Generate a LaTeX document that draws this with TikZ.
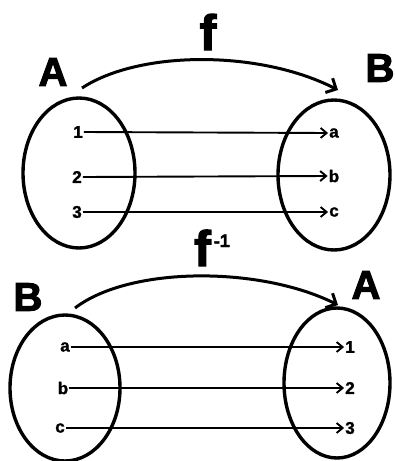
\documentclass[tikz,border=0pt]{standalone}
\usepackage{fontspec}
\setmainfont{Liberation Sans}
\newfontfamily\heavyfont[FakeBold=2.5]{Liberation Sans Bold}
\newfontfamily\midfont[FakeBold=1.5]{Liberation Sans Bold}
\usetikzlibrary{shapes.geometric,arrows.meta}
\begin{document}
\begin{tikzpicture}[x=1pt,y=-1pt,
  setell/.style={draw,ellipse,line width=3.4pt,inner sep=0pt},
  bigl/.style={font=\fontsize{40}{40}\selectfont\heavyfont,inner sep=0pt},
  fnl/.style={font=\fontsize{50}{50}\selectfont\heavyfont,inner sep=0pt},
  lbl/.style={font=\fontsize{17}{17}\selectfont\midfont,inner sep=1pt},
  maparrow/.style={line width=1.9pt,-{Straight Barb[length=6pt,width=10pt,line width=1.9pt]}},
  bigarrow/.style={line width=3pt,-{Straight Barb[length=8pt,width=16pt,line width=3pt]}}]
\useasboundingbox (0,0) rectangle (394,461);
% ---------- top: f ----------
\node[bigl] (tA) at (53,72) {A};
\node[bigl] (tB) at (380,68) {B};
\node[fnl] (f) at (208,32) {f};
\node[setell,minimum width=112pt,minimum height=150pt] (tL) at (79,173) {};
\node[setell,minimum width=112pt,minimum height=150pt] (tR) at (334,175) {};
\node[lbl] (t1) at (78,132) {1};
\node[lbl] (t2) at (77,177) {2};
\node[lbl] (t3) at (77,212) {3};
\node[lbl] (ta) at (334,133) {a};
\node[lbl] (tb) at (334,176) {b};
\node[lbl] (tc) at (334,212) {c};
\draw[maparrow] (t1.east) -- (ta.west);
\draw[maparrow] (t2.east) -- (tb.west);
\draw[maparrow] (t3.east) -- (tc.west);
\coordinate (ts) at (82,88);
\coordinate (te) at (338,90);
\draw[bigarrow] (ts) .. controls (140,50) and (260,50) .. (te);
% ---------- bottom: f^-1 ----------
\node[bigl] (bB) at (28,297) {B};
\node[bigl] (bA) at (366,285) {A};
\node[fnl,anchor=base] (fi) at (212,266) {f\kern3pt\raisebox{19pt}{\fontsize{18}{18}\selectfont\heavyfont -1}};
\node[setell,minimum width=110pt,minimum height=146pt] (bL) at (65,388) {};
\node[setell,minimum width=106pt,minimum height=150pt] (bR) at (337,383) {};
\node[lbl] (ba) at (65,347) {a};
\node[lbl] (bb) at (63,388) {b};
\node[lbl] (bc) at (60,428) {c};
\node[lbl] (b1) at (350,347) {1};
\node[lbl] (b2) at (350,388) {2};
\node[lbl] (b3) at (350,428) {3};
\draw[maparrow] (ba.east) -- (b1.west);
\draw[maparrow] (bb.east) -- (b2.west);
\draw[maparrow] (bc.east) -- (b3.west);
\coordinate (bs) at (75,308);
\coordinate (be) at (338,305);
\draw[bigarrow] (bs) .. controls (130,266) and (260,266) .. (be);
\end{tikzpicture}
\end{document}
